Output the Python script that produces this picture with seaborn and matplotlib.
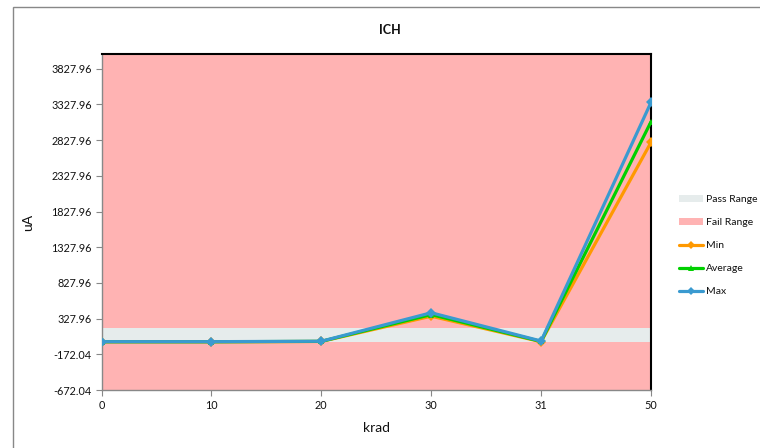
import numpy as np
import pandas as pd
import matplotlib
matplotlib.use('agg')
import matplotlib.pyplot as plt
from matplotlib.lines import Line2D
from matplotlib.patches import Patch, Rectangle
import seaborn as sns

# data
krad = ['0', '10', '20', '30', '31', '50']
min_vals = [3, 3, 8, 362, 4, 2797]
avg_vals = [4, 4, 9, 385, 8, 3085]
max_vals = [5, 5, 11, 410, 14, 3357]
pass_range = (0, 190)
y_min, y_max = -672.04, 4027.96
y_ticks = np.arange(-672.04, 3828, 500)

series_names = ['Min', 'Average', 'Max']
colors = {'Min': '#FF9900', 'Average': '#00D000', 'Max': '#3A9AD0'}
markers = {'Min': 'D', 'Average': '^', 'Max': 'D'}

rows = []
for name, vals in zip(series_names, [min_vals, avg_vals, max_vals]):
    for i, v in enumerate(vals):
        rows.append({'pos': i, 'uA': v, 'series': name})
df = pd.DataFrame(rows)

sns.set_style('white')
plt.rcParams['font.family'] = ['Lato', 'DejaVu Sans']

fig = plt.figure(figsize=(7.6, 4.48), dpi=100)
ax = fig.add_axes([101.5 / 760, 1 - 390 / 448, (651 - 101.5) / 760, (390 - 54.5) / 448])

# fail / pass bands
ax.axhspan(y_min, y_max, color='#FFB3B3', zorder=0, lw=0)
ax.axhspan(pass_range[0], pass_range[1], color='#E6ECEC', zorder=1, lw=0)

sns.lineplot(data=df, x='pos', y='uA', hue='series', style='series',
             hue_order=series_names, style_order=series_names,
             palette=colors, markers=markers, dashes=False,
             linewidth=2.3, markersize=5, markeredgewidth=0,
             legend=False, ax=ax, zorder=3)

ax.set_xlim(0, len(krad) - 1)
ax.set_ylim(y_min, y_max)
ax.set_xticks(range(len(krad)))
ax.set_xticklabels(krad)
ax.set_yticks(y_ticks)
ax.set_yticklabels([f'{t:.2f}' for t in y_ticks])
ax.tick_params(axis='both', labelsize=7.8, labelcolor='#111111', length=4,
               width=0.8, direction='out', pad=3, left=True, bottom=True,
               color='#888888')
ax.set_xlabel('krad', fontsize=10, labelpad=8, color='#111111')
ax.set_ylabel('uA', fontsize=10, labelpad=12, color='#111111')

for s in ['top', 'right']:
    ax.spines[s].set_color('black')
    ax.spines[s].set_linewidth(1.5)
for s in ['left', 'bottom']:
    ax.spines[s].set_color('#888888')
    ax.spines[s].set_linewidth(1.0)

fig.text(0.513, 1 - 30 / 448, 'ICH', ha='center', va='center',
         fontsize=9, fontweight='bold', color='#111111')

handles = [
    Patch(facecolor='#E6ECEC', edgecolor='none', label='Pass Range'),
    Patch(facecolor='#FFB3B3', edgecolor='none', label='Fail Range'),
]
for name in series_names:
    handles.append(Line2D([0], [0], color=colors[name], lw=2.3,
                          marker=markers[name], markersize=4,
                          markeredgewidth=0, label=name))
fig.legend(handles=handles, loc='upper left',
           bbox_to_anchor=(675 / 760, 1 - 191 / 448), frameon=False,
           fontsize=7.5, handlelength=2.3, handleheight=0.6,
           labelspacing=1.35, handletextpad=0.3, borderaxespad=0,
           labelcolor='#111111')

# outer chart border
fig.patches.append(Rectangle((12.5 / 760, -0.1), 1.2, 1.1 - 7 / 448,
                             transform=fig.transFigure, fill=False,
                             edgecolor='#888888', lw=1.0, clip_on=False))

fig.savefig('out.png', dpi=100)
